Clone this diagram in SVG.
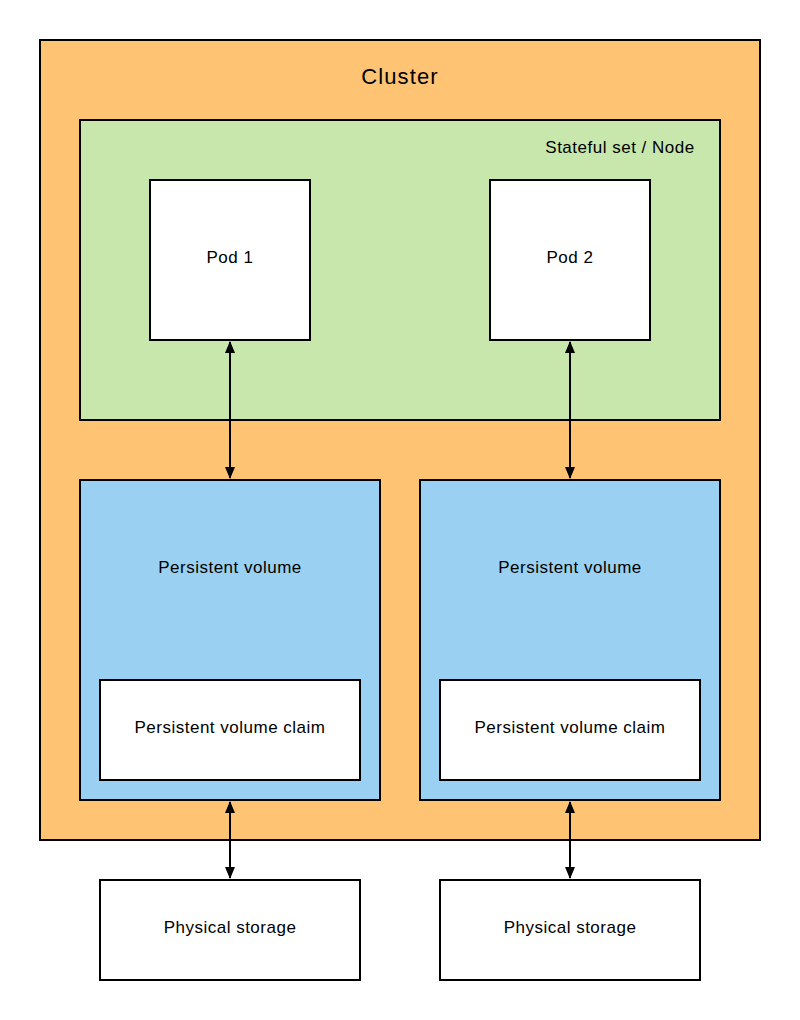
<svg xmlns="http://www.w3.org/2000/svg" width="800" height="1020" viewBox="0 0 800 1020">
<style>
rect{stroke:#000;stroke-width:2}
.cl{fill:#ffc374}.ss{fill:#c7e7ac}.pv{fill:#9ad1f2}.w{fill:#fff}
text{font-family:"Liberation Sans",Arial,sans-serif;font-size:17px;letter-spacing:0.5px;fill:#000;text-anchor:middle;dominant-baseline:central}
.big{font-size:22px;letter-spacing:1.1px}
.c{stroke:#000;stroke-width:2;fill:none;marker-start:url(#a);marker-end:url(#a)}
</style>
<defs>
<marker id="a" viewBox="0 0 12 12" refX="11" refY="6" markerWidth="12" markerHeight="12" markerUnits="userSpaceOnUse" orient="auto-start-reverse">
<path d="M0,1 L12,6 L0,11 Z" fill="#000"/>
</marker>
</defs>
<g id="cluster"><rect class="cl" x="40" y="40" width="720" height="800"/><text class="big" x="400" y="76">Cluster</text></g>
<g id="statefulset"><rect class="ss" x="80" y="120" width="640" height="300"/><text x="620" y="147">Stateful set / Node</text></g>
<g id="pod1"><rect class="w" x="150" y="180" width="160" height="160"/><text x="230" y="257">Pod 1</text></g>
<g id="pod2"><rect class="w" x="490" y="180" width="160" height="160"/><text x="570" y="257">Pod 2</text></g>
<g id="pv1"><rect class="pv" x="80" y="480" width="300" height="320"/><text x="230" y="567">Persistent volume</text></g>
<g id="pv2"><rect class="pv" x="420" y="480" width="300" height="320"/><text x="570" y="567">Persistent volume</text></g>
<g id="pvc1"><rect class="w" x="100" y="680" width="260" height="100"/><text x="230" y="727">Persistent volume claim</text></g>
<g id="pvc2"><rect class="w" x="440" y="680" width="260" height="100"/><text x="570" y="727">Persistent volume claim</text></g>
<g id="ps1"><rect class="w" x="100" y="880" width="260" height="100"/><text x="230" y="927">Physical storage</text></g>
<g id="ps2"><rect class="w" x="440" y="880" width="260" height="100"/><text x="570" y="927">Physical storage</text></g>
<g id="connectors">
<line class="c" x1="230" y1="342" x2="230" y2="478"/>
<line class="c" x1="570" y1="342" x2="570" y2="478"/>
<line class="c" x1="230" y1="802" x2="230" y2="878"/>
<line class="c" x1="570" y1="802" x2="570" y2="878"/>
</g>
</svg>
